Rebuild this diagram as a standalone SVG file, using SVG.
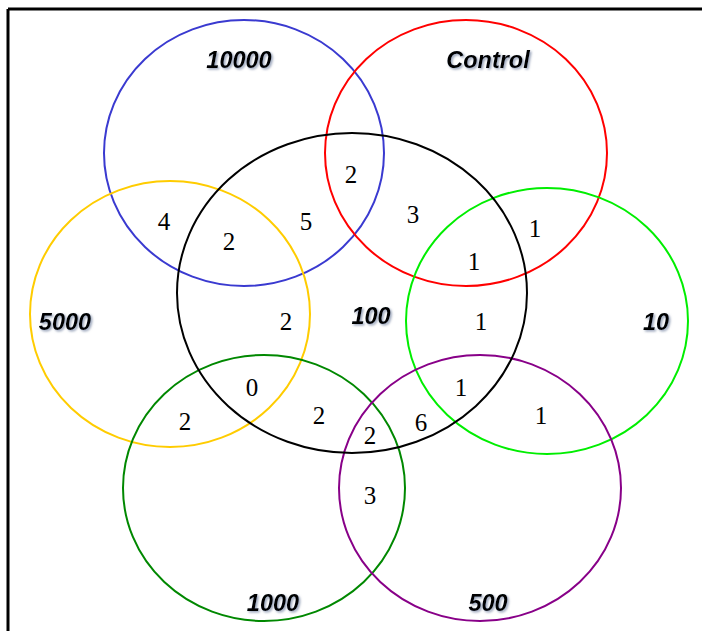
<svg xmlns="http://www.w3.org/2000/svg" width="702" height="631" viewBox="0 0 702 631">
<style>
.c{fill:none;stroke-width:2}
.n{font-family:"Liberation Serif",serif;font-size:25px;fill:#000;text-anchor:middle}
.l{font-family:"Liberation Sans",sans-serif;font-size:23.5px;font-weight:bold;font-style:italic;fill:#000;text-anchor:middle;filter:url(#sh)}
</style>
<defs>
<filter id="sh" x="-20%" y="-20%" width="140%" height="140%">
<feDropShadow dx="1.5" dy="1.5" stdDeviation="0.8" flood-color="#6a7a9a" flood-opacity="0.7"/>
</filter>
</defs>
<rect width="702" height="631" fill="#fff"/>
<g id="frame">
<line x1="8" y1="9" x2="702" y2="9" stroke="#000" stroke-width="3"/>
<line x1="8" y1="9" x2="8" y2="631" stroke="#000" stroke-width="3"/>
</g>
<g id="set-10000"><ellipse class="c" cx="244" cy="153" rx="140" ry="133" stroke="#3a3ad0"/><text class="l" x="239" y="68">10000</text></g>
<g id="set-control"><ellipse class="c" cx="466" cy="153" rx="141" ry="133" stroke="#ff0000"/><text class="l" x="488" y="68">Control</text></g>
<g id="set-5000"><ellipse class="c" cx="170" cy="314" rx="140" ry="133" stroke="#ffcc00"/><text class="l" x="65" y="330">5000</text></g>
<g id="set-10"><ellipse class="c" cx="547" cy="321" rx="141" ry="133" stroke="#00ee00"/><text class="l" x="656" y="330">10</text></g>
<g id="set-1000"><ellipse class="c" cx="264" cy="488" rx="141" ry="133" stroke="#008800"/><text class="l" x="273" y="611">1000</text></g>
<g id="set-500"><ellipse class="c" cx="480" cy="488" rx="141" ry="133" stroke="#880088"/><text class="l" x="488" y="611">500</text></g>
<g id="set-100"><ellipse class="c" cx="352" cy="293" rx="175" ry="160" stroke="#000" stroke-width="3"/><text class="l" x="371" y="324">100</text></g>
<g id="counts">
<text class="n" x="164" y="230">4</text>
<text class="n" x="229" y="250">2</text>
<text class="n" x="306" y="230">5</text>
<text class="n" x="351" y="183">2</text>
<text class="n" x="413" y="223">3</text>
<text class="n" x="535" y="237">1</text>
<text class="n" x="474" y="270">1</text>
<text class="n" x="286" y="330">2</text>
<text class="n" x="481" y="330">1</text>
<text class="n" x="252" y="396">0</text>
<text class="n" x="461" y="396">1</text>
<text class="n" x="185" y="430">2</text>
<text class="n" x="319" y="424">2</text>
<text class="n" x="370" y="444">2</text>
<text class="n" x="421" y="431">6</text>
<text class="n" x="541" y="424">1</text>
<text class="n" x="370" y="504">3</text>
</g>
</svg>
